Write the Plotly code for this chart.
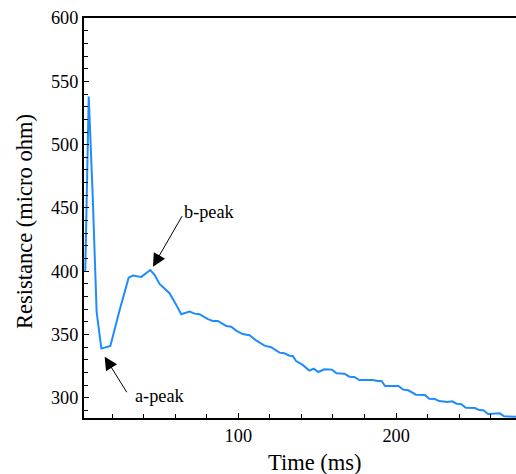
import plotly.graph_objects as go

# ---- data ----
time_ms = [3, 5.2, 7.7, 10.2, 13.2, 18.9, 24.8, 30.5, 33.2, 38.5, 44.2, 46.9, 50.1, 53.3,
           56.4, 60.7, 63.8, 69.1, 72.3, 75.4, 80.7, 83.8, 87.0, 92.3, 95.5, 98.6, 102.8,
           107.1, 111.3, 116.6, 120.8, 126.1, 129.2, 132.4, 134.5, 136.6, 140.8, 145.0,
           147.8, 150.7, 154.5, 159.4, 162.3, 167.2, 170.4, 173.5, 176.7, 185.1, 188.3,
           190.8, 193.0, 201.4, 204.5, 207.7, 212.6, 218.3, 221.0, 224.6, 227.3, 232.6,
           235.7, 238.3, 241.1, 244.2, 250.1, 252.6, 255.3, 258.3, 261.7, 265.7, 268.5, 278]
resistance = [400, 538, 460, 368, 339, 341, 369.5, 395, 396.6, 395.6, 401, 397.2, 390, 386,
              382.7, 373.5, 366.1, 368.2, 366.6, 366.1, 362.2, 360.8, 360.8, 356.9, 356.3,
              353.2, 350.5, 349.5, 345.5, 341.3, 340.1, 335.8, 335.3, 333.4, 333.2, 329.2,
              326.1, 321.6, 323.1, 320.5, 322.7, 322.4, 319.5, 319.2, 316.8, 316.6, 314.2,
              314.2, 313.4, 313.4, 309.5, 309.5, 306.6, 306.1, 302.6, 302.4, 299.4, 299.2,
              297.6, 296.8, 297.4, 295.5, 295.3, 292.3, 292.1, 290.5, 290.3, 287.4, 287.6,
              287.9, 285.5, 285.2]

x_range = [2.2, 276]
y_range = [284.2, 600]
y_tickvals = [300, 350, 400, 450, 500, 550, 600]
x_tickvals = [100, 200]

# annotations: (label, arrow tip x, arrow tip y, tail dx px, tail dy px, text x, text y)
peaks = [
    ("a-peak", 15.3, 332.6, 23, 37, 50.4, 301.6),
    ("b-peak", 45.9, 403.7, 30, -52, 81.7, 446.9),
]

FONT = "'Times New Roman', 'Liberation Serif', serif"
TICK_SIZE = 18.3

fig = go.Figure()
fig.add_trace(go.Scatter(x=time_ms, y=resistance, mode="lines",
                         line=dict(color="#1E8BFF", width=2), showlegend=False))

for label, tx, ty, dx, dy, lx, ly in peaks:
    fig.add_annotation(x=tx, y=ty, ax=dx, ay=dy, text="", showarrow=True,
                       arrowhead=2, arrowsize=2.6, arrowwidth=1, arrowcolor="black",
                       xref="x", yref="y")
    fig.add_annotation(x=lx, y=ly, text=label, showarrow=False, xref="x", yref="y",
                       xanchor="center", yanchor="middle",
                       font=dict(family=FONT, size=TICK_SIZE, color="black"))

fig.add_annotation(x=(315 - 84) / 432, y=(418 - 462) / 400, xref="paper", yref="paper",
                   text="Time (ms)", showarrow=False, xanchor="center", yanchor="middle",
                   font=dict(family=FONT, size=22.5, color="black"))
fig.add_annotation(x=(24 - 84) / 432, y=(418 - 222) / 400, xref="paper", yref="paper",
                   text="Resistance (micro ohm)", showarrow=False, textangle=-90,
                   xanchor="center", yanchor="middle",
                   font=dict(family=FONT, size=22.5, color="black"))

fig.update_layout(
    width=516, height=474,
    margin=dict(l=84, r=0, t=18, b=56),
    paper_bgcolor="white", plot_bgcolor="white",
    font=dict(family=FONT, size=TICK_SIZE, color="black"),
    xaxis=dict(range=x_range, tickvals=x_tickvals, ticks="inside", ticklen=5,
               tickwidth=1, tickcolor="black", showline=True, linewidth=2,
               linecolor="black", mirror=True, showgrid=False, zeroline=False,
               minor=dict(dtick=20, tick0=0, ticks="inside", ticklen=4, tickcolor="black",
                          showgrid=False),
               tickfont=dict(family=FONT, size=TICK_SIZE, color="black")),
    yaxis=dict(range=y_range, tickvals=y_tickvals, ticks="inside", ticklen=5,
               tickwidth=1, tickcolor="black", showline=True, linewidth=2,
               linecolor="black", showgrid=False, zeroline=False,
               minor=dict(dtick=10, tick0=0, ticks="inside", ticklen=4, tickcolor="black",
                          showgrid=False),
               tickfont=dict(family=FONT, size=TICK_SIZE, color="black")),
)

fig.write_html("out.html")
